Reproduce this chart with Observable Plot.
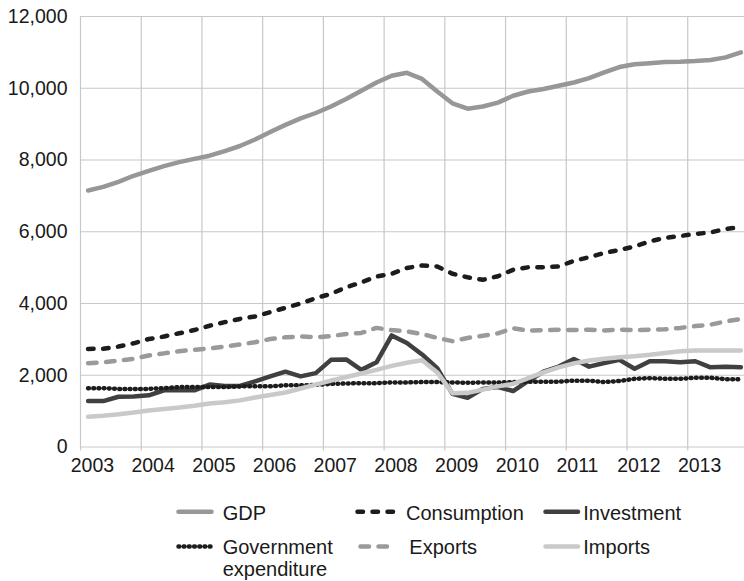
<!DOCTYPE html>
<html><head><meta charset="utf-8">
<script src="https://cdn.jsdelivr.net/npm/d3@7"></script>
<script src="https://cdn.jsdelivr.net/npm/@observablehq/plot@0.6"></script>
<style>
body{margin:0;background:#fff;font-family:"Liberation Sans",Arial,Helvetica,sans-serif;}
#chart svg,#legend svg{display:block}
</style></head><body><div id="chart"></div><div id="legend"></div>
<script>
const years = ["2003","2004","2005","2006","2007","2008","2009","2010","2011","2012","2013"];
const quarters = years.flatMap(y => ["Q1","Q2","Q3","Q4"].map(q => y + q));
const yTicks = [0, 2000, 4000, 6000, 8000, 10000, 12000];

const gdp = [7150,7250,7390,7560,7700,7830,7940,8030,8120,8250,8390,8570,8780,8980,9160,9310,9490,9700,9930,10160,10350,10430,10260,9910,9580,9430,9490,9600,9790,9910,9980,10070,10160,10280,10440,10590,10670,10700,10730,10740,10760,10790,10860,11000];
const consumption = [2735,2740,2800,2890,3010,3080,3170,3260,3380,3480,3570,3640,3760,3880,4000,4150,4270,4450,4590,4750,4830,4990,5060,5030,4830,4730,4660,4760,4940,5010,5010,5030,5190,5290,5410,5490,5590,5730,5830,5880,5940,5980,6080,6130];
const investment = [1280,1280,1400,1410,1440,1580,1580,1580,1740,1700,1700,1830,1970,2100,1970,2060,2430,2440,2150,2360,3110,2900,2580,2200,1480,1370,1620,1670,1560,1840,2100,2240,2450,2240,2340,2430,2180,2390,2390,2360,2390,2220,2240,2220];
const government = [1640,1640,1620,1620,1620,1640,1670,1670,1670,1670,1690,1690,1690,1720,1720,1730,1760,1770,1780,1780,1800,1800,1810,1810,1800,1790,1800,1800,1810,1820,1820,1820,1850,1850,1810,1840,1900,1920,1900,1900,1930,1930,1890,1890];
const exportsS = [2335,2360,2410,2460,2550,2610,2670,2710,2750,2800,2860,2920,3010,3060,3080,3060,3090,3150,3180,3320,3260,3220,3150,3040,2950,3040,3100,3170,3310,3240,3260,3270,3260,3270,3250,3270,3260,3270,3280,3320,3370,3410,3500,3570];
const imports = [840,870,910,960,1020,1060,1100,1150,1210,1250,1300,1380,1450,1520,1630,1740,1850,1950,2050,2150,2260,2350,2420,2080,1500,1510,1600,1690,1760,1920,2080,2220,2330,2410,2460,2500,2530,2570,2620,2670,2690,2690,2690,2690];

const series = [
  {name: "GDP", values: gdp, stroke: "#979797", dash: null, cap: "round"},
  {name: "Consumption", values: consumption, stroke: "#1c1c1c", dash: "5.5,9.5", cap: "round"},
  {name: "Investment", values: investment, stroke: "#404040", dash: null, cap: "round"},
  {name: "Government expenditure", values: government, stroke: "#1c1c1c", dash: "0.8,4.4", cap: "round"},
  {name: "Exports", values: exportsS, stroke: "#9a9a9a", dash: "8.5,9.5", cap: "round"},
  {name: "Imports", values: imports, stroke: "#c9c9c9", dash: null, cap: "round"}
];

const boundaries = years.map((y, k) => k * 4 - 0.5);
const fmt = d3.format(",");

const plot = Plot.plot({
  width: 744, height: 485,
  marginLeft: 80, marginRight: 0, marginTop: 16, marginBottom: 38.5,
  x: {domain: [-0.5, 43.24], label: null},
  y: {domain: [0, 12000], label: null},
  style: {fontFamily: '"Liberation Sans", Arial, Helvetica, sans-serif', fontSize: "19.5px", color: "#1a1a1a", background: "#fff"},
  marks: [
    Plot.gridY(yTicks, {stroke: "#c8c8c8", strokeOpacity: 1, strokeWidth: 1.2}),
    Plot.gridX(boundaries, {stroke: "#c8c8c8", strokeOpacity: 1, strokeWidth: 1.2}),
    Plot.axisX(boundaries, {tickSize: 4, stroke: "#c8c8c8", strokeOpacity: 1, strokeWidth: 1.2, tickFormat: () => ""}),
    Plot.axisX(boundaries, {tickSize: 0, tickPadding: 10.7, textAnchor: "start", dx: -9.8, fill: "#1a1a1a", tickFormat: d => years[Math.round((d + 0.5) / 4)]}),
    Plot.axisY(yTicks, {tickSize: 0, tickPadding: 13, fill: "#1a1a1a", tickFormat: fmt}),
    ...series.map(s => Plot.line(s.values, {
      x: (d, i) => i, y: d => d,
      stroke: s.stroke, strokeWidth: 4.5,
      strokeDasharray: s.dash, strokeLinecap: s.cap, strokeLinejoin: "round"
    }))
  ]
});
document.getElementById("chart").appendChild(plot);

// Legend
const leg = d3.select("#legend").append("svg").attr("width", 744).attr("height", 96)
  .style("font-family", '"Liberation Sans", Arial, Helvetica, sans-serif').style("font-size", "20px");
const items = [
  {s: series[0], x1: 178.5, x2: 211.5, tx: 222.7, y: 26.7, ty: 35, lines: ["GDP"]},
  {s: series[1], x1: 357.5, x2: 396, tx: 406, y: 26.7, ty: 35, lines: ["Consumption"]},
  {s: series[2], x1: 545.5, x2: 578, tx: 583.3, y: 26.7, ty: 35, lines: ["Investment"]},
  {s: series[3], x1: 178.5, x2: 211.5, tx: 222.7, y: 61.5, ty: 69, lines: ["Government", "expenditure"]},
  {s: series[4], x1: 360.5, x2: 393, tx: 409.3, y: 61.5, ty: 69, lines: ["Exports"]},
  {s: series[5], x1: 545.5, x2: 578, tx: 583.3, y: 61.5, ty: 69, lines: ["Imports"]}
];
items.forEach(it => {
  leg.append("line").attr("x1", it.x1).attr("x2", it.x2).attr("y1", it.y).attr("y2", it.y)
    .attr("stroke", it.s.stroke).attr("stroke-width", 4.5)
    .attr("stroke-dasharray", it.s.dash).attr("stroke-linecap", it.s.cap);
  it.lines.forEach((t, k) => {
    leg.append("text").attr("x", it.tx).attr("y", it.ty + k * 21.7).attr("fill", "#1a1a1a").text(t);
  });
});
</script></body></html>
